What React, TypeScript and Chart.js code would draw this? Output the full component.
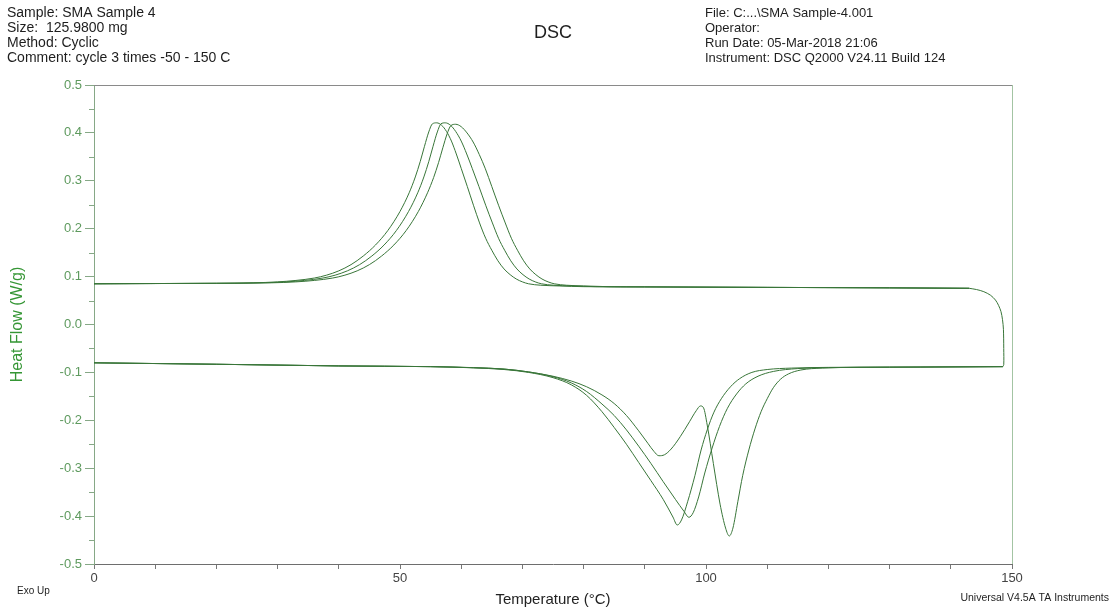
import React, { useEffect, useRef } from "react";
import { Chart, registerables } from "chart.js";

Chart.register(...registerables);

// ---------- Data ----------
// Heating runs (endotherms), temperature in °C, heat flow in W/g
const heat1T = [0, 20, 40, 55, 62, 67, 71, 75, 78, 80.5, 83, 85, 87, 89, 90.5, 91.5, 92.3, 93.2, 94.3, 95.8, 97.3, 98.4, 99.1, 99.6, 100.2, 101.2, 102.3, 103.2, 103.8, 104.4, 105.2, 106, 107, 108, 109, 110, 111, 112.2, 113.5, 115.5, 119, 125, 135, 148.5];
const heat1HF = [-0.08, -0.083, -0.0865, -0.088, -0.09, -0.093, -0.099, -0.108, -0.118, -0.13, -0.147, -0.165, -0.19, -0.222, -0.248, -0.265, -0.274, -0.272, -0.26, -0.234, -0.203, -0.18, -0.17, -0.174, -0.21, -0.29, -0.375, -0.425, -0.4415, -0.425, -0.37, -0.315, -0.262, -0.218, -0.182, -0.155, -0.132, -0.114, -0.103, -0.095, -0.091, -0.0895, -0.089, -0.088];

const heat2T = [0, 20, 40, 55, 62, 67, 71, 75, 78, 80.5, 83, 85, 87, 89, 91, 93, 94.6, 95.3, 96.0, 97, 98.2, 99.2, 100.2, 101.3, 102.5, 104, 105.5, 107.5, 110, 114, 120, 130, 148.5];
const heat2HF = [-0.08, -0.083, -0.0865, -0.088, -0.0905, -0.094, -0.1, -0.111, -0.126, -0.148, -0.182, -0.215, -0.25, -0.288, -0.326, -0.365, -0.402, -0.4186, -0.408, -0.37, -0.315, -0.262, -0.22, -0.183, -0.155, -0.13, -0.113, -0.1, -0.094, -0.091, -0.0895, -0.089, -0.088];

const heat3T = [0, 20, 40, 55, 62, 67, 71, 75, 78, 80.5, 83, 85, 87, 89, 91, 93, 95, 96.4, 97.2, 97.9, 98.8, 99.8, 101, 102.2, 103.5, 105, 106.5, 108.5, 111, 115, 120, 130, 148.5];
const heat3HF = [-0.08, -0.083, -0.0865, -0.088, -0.0902, -0.093, -0.099, -0.109, -0.122, -0.14, -0.166, -0.19, -0.22, -0.254, -0.29, -0.328, -0.365, -0.39, -0.4025, -0.393, -0.36, -0.31, -0.258, -0.213, -0.175, -0.145, -0.124, -0.108, -0.098, -0.092, -0.09, -0.089, -0.088];

// Turn-around at the top of the temperature ramp
const turnT = [148.5, 148.65, 148.65, 148.6, 148.45, 148.2, 147.8, 147.3, 146.5, 145.4, 144.2, 143];
const turnHF = [-0.088, -0.084, -0.05, -0.01, 0.01, 0.027, 0.04, 0.051, 0.061, 0.0685, 0.073, 0.0756];

// Cooling runs (exotherms)
const cool1T = [0, 10, 20, 26, 30, 33, 36, 38, 40, 42, 44, 46, 48, 50, 51.5, 52.5, 53.3, 54, 54.7, 55.3, 56, 56.8, 57.6, 58.4, 59.2, 60, 61, 62, 63, 64, 65, 66, 67, 68, 69, 70, 71, 73, 76, 80, 90, 110, 130, 143];
const cool1HF = [0.085, 0.0855, 0.086, 0.087, 0.089, 0.092, 0.097, 0.103, 0.112, 0.125, 0.143, 0.166, 0.196, 0.236, 0.275, 0.308, 0.34, 0.372, 0.402, 0.419, 0.421, 0.416, 0.403, 0.383, 0.356, 0.326, 0.288, 0.249, 0.212, 0.18, 0.155, 0.133, 0.116, 0.104, 0.095, 0.089, 0.085, 0.082, 0.0805, 0.079, 0.0785, 0.0775, 0.0765, 0.0756];

const cool2T = [0, 10, 20, 27.4, 31.4, 34.4, 37.4, 39.4, 41.4, 43.4, 45.4, 47.4, 49.4, 51.4, 52.9, 53.9, 54.7, 55.4, 56.1, 56.7, 57.4, 58.25, 59.1, 60.0, 60.9, 61.8, 62.9, 64.0, 65.1, 66.1, 67.1, 68.1, 69.1, 70.1, 71.1, 72.1, 73.1, 75.1, 78, 82, 90, 110, 130, 143];
const cool2HF = [0.085, 0.0855, 0.086, 0.087, 0.089, 0.092, 0.097, 0.103, 0.112, 0.125, 0.143, 0.166, 0.196, 0.236, 0.275, 0.308, 0.34, 0.372, 0.402, 0.419, 0.421, 0.416, 0.403, 0.383, 0.356, 0.326, 0.288, 0.249, 0.212, 0.18, 0.155, 0.133, 0.116, 0.104, 0.095, 0.089, 0.085, 0.082, 0.0805, 0.079, 0.0785, 0.0775, 0.0765, 0.0756];

const cool3T = [0, 10, 20, 29, 33, 36, 39, 41, 43, 45, 47, 49, 51, 53, 54.5, 55.5, 56.3, 57, 57.7, 58.3, 59.1, 60.0, 60.95, 61.95, 62.95, 63.95, 65.0, 66.1, 67.2, 68.2, 69.2, 70.2, 71.2, 72.2, 73.2, 74.2, 75.2, 77.2, 80, 84, 90, 110, 130, 143];
const cool3HF = [0.085, 0.0855, 0.086, 0.087, 0.089, 0.092, 0.097, 0.103, 0.112, 0.125, 0.143, 0.166, 0.196, 0.236, 0.275, 0.307, 0.338, 0.369, 0.398, 0.415, 0.418, 0.413, 0.4, 0.381, 0.355, 0.325, 0.288, 0.249, 0.212, 0.18, 0.155, 0.133, 0.116, 0.104, 0.095, 0.089, 0.085, 0.082, 0.0805, 0.079, 0.0785, 0.0775, 0.0765, 0.0756];

// Axis ticks / texts
const xMajorTicks = [0, 50, 100, 150];
const yMinorTicks = [0.45, 0.35, 0.25, 0.15, 0.05, -0.05, -0.15, -0.25, -0.35, -0.45];
const headerLeft = ["Sample: SMA Sample 4", "Size:  125.9800 mg", "Method: Cyclic", "Comment: cycle 3 times -50 - 150 C"];
const headerRight = ["File: C:...\\SMA Sample-4.001", "Operator:", "Run Date: 05-Mar-2018 21:06", "Instrument: DSC Q2000 V24.11 Build 124"];
const titleText = "DSC";
const xTitle = "Temperature (°C)";
const yTitle = "Heat Flow (W/g)";
const footLeft = "Exo Up";
const footRight = "Universal V4.5A TA Instruments";

const FONT = "'Liberation Sans', Arial, Helvetica, sans-serif";
const LINE = "#387538";

function pts(xs: number[], ys: number[]) {
  return xs.map((x, i) => ({ x, y: ys[i] }));
}

const decorPlugin = {
  id: "decor",
  afterDraw(chart: any) {
    const { ctx, chartArea, scales } = chart;
    const y = scales.y;
    ctx.save();
    // top and right frame
    ctx.lineWidth = 1;
    ctx.strokeStyle = "#8a8a8a";
    ctx.beginPath();
    ctx.moveTo(chartArea.left, chartArea.top + 0.5);
    ctx.lineTo(chartArea.right, chartArea.top + 0.5);
    ctx.stroke();
    ctx.strokeStyle = "#a3c4a3";
    ctx.beginPath();
    ctx.moveTo(chartArea.right + 0.5, chartArea.top);
    ctx.lineTo(chartArea.right + 0.5, chartArea.bottom);
    ctx.stroke();
    // minor y ticks
    ctx.strokeStyle = "#86a886";
    yMinorTicks.forEach((v) => {
      const py = Math.round(y.getPixelForValue(v)) + 0.5;
      ctx.beginPath();
      ctx.moveTo(chartArea.left - 5, py);
      ctx.lineTo(chartArea.left, py);
      ctx.stroke();
    });
    // header texts
    ctx.fillStyle = "#1e1e1e";
    ctx.textBaseline = "middle";
    ctx.textAlign = "left";
    ctx.font = `14px ${FONT}`;
    headerLeft.forEach((t, i) => ctx.fillText(t, 7, 13 + i * 15));
    ctx.font = `13px ${FONT}`;
    headerRight.forEach((t, i) => ctx.fillText(t, 705, 13 + i * 15));
    ctx.font = `18px ${FONT}`;
    ctx.textAlign = "center";
    ctx.fillText(titleText, 553, 33);
    // footer texts
    ctx.font = `10px ${FONT}`;
    ctx.textAlign = "left";
    ctx.fillText(footLeft, 17, 591);
    ctx.font = `10.5px ${FONT}`;
    ctx.textAlign = "right";
    ctx.fillText(footRight, 1109, 598);
    ctx.restore();
  },
};

export default function App() {
  const canvasRef = useRef<HTMLCanvasElement | null>(null);

  useEffect(() => {
    if (!canvasRef.current) return;
    const ds = (xs: number[], ys: number[], mode: "default" | "monotone", tension = 0.4) => ({
      data: pts(xs, ys),
      showLine: true,
      borderColor: LINE,
      borderWidth: 1,
      pointRadius: 0,
      fill: false,
      cubicInterpolationMode: mode,
      tension,
    });
    const chart = new Chart(canvasRef.current, {
      type: "scatter",
      data: {
        datasets: [
          ds(heat1T, heat1HF, "monotone"),
          ds(heat2T, heat2HF, "monotone"),
          ds(heat3T, heat3HF, "monotone"),
          ds(turnT, turnHF, "default", 0.3),
          ds(cool1T, cool1HF, "monotone"),
          ds(cool2T, cool2HF, "monotone"),
          ds(cool3T, cool3HF, "monotone"),
        ] as any,
      },
      options: {
        responsive: false,
        animation: false,
        events: [],
        layout: { padding: { top: 85, right: 101, left: 0, bottom: 0 } },
        plugins: { legend: { display: false }, tooltip: { enabled: false }, title: { display: false } },
        scales: {
          x: {
            type: "linear",
            min: 0,
            max: 150,
            afterFit: (s: any) => {
              s.height = 45;
            },
            grid: { drawOnChartArea: false, drawTicks: true, tickLength: 5, tickColor: "#777777" },
            border: { display: true, color: "#6e6e6e", width: 1 },
            ticks: {
              stepSize: 10,
              autoSkip: false,
              maxRotation: 0,
              padding: 2,
              color: "#444444",
              font: { family: FONT, size: 13 },
              callback: (v: any) => (xMajorTicks.includes(Number(v)) ? String(v) : ""),
            },
            title: {
              display: true,
              text: xTitle,
              color: "#222222",
              font: { family: FONT, size: 15 },
              padding: { top: 0, bottom: 0 },
            },
          },
          y: {
            type: "linear",
            min: -0.5,
            max: 0.5,
            afterFit: (s: any) => {
              s.width = 94;
            },
            grid: { drawOnChartArea: false, drawTicks: true, tickLength: 9, tickColor: "#86a886" },
            border: { display: true, color: "#86a886", width: 1 },
            ticks: {
              stepSize: 0.1,
              padding: 3,
              color: "#5e9a5e",
              font: { family: FONT, size: 13 },
              callback: (v: any) => {
                const n = Number(v);
                return Math.abs(n) < 1e-9 ? "0.0" : n.toFixed(1);
              },
            },
            title: {
              display: true,
              text: yTitle,
              color: "#359635",
              font: { family: FONT, size: 16 },
              padding: { top: 8, bottom: 0 },
            },
          },
        },
      },
      plugins: [decorPlugin],
    });
    return () => chart.destroy();
  }, []);

  return (
    <div style={{ position: "absolute", left: 0, top: 0, width: 1113, height: 609, background: "#ffffff" }}>
      <canvas ref={canvasRef} width={1113} height={609} style={{ width: 1113, height: 609, display: "block" }} />
    </div>
  );
}
